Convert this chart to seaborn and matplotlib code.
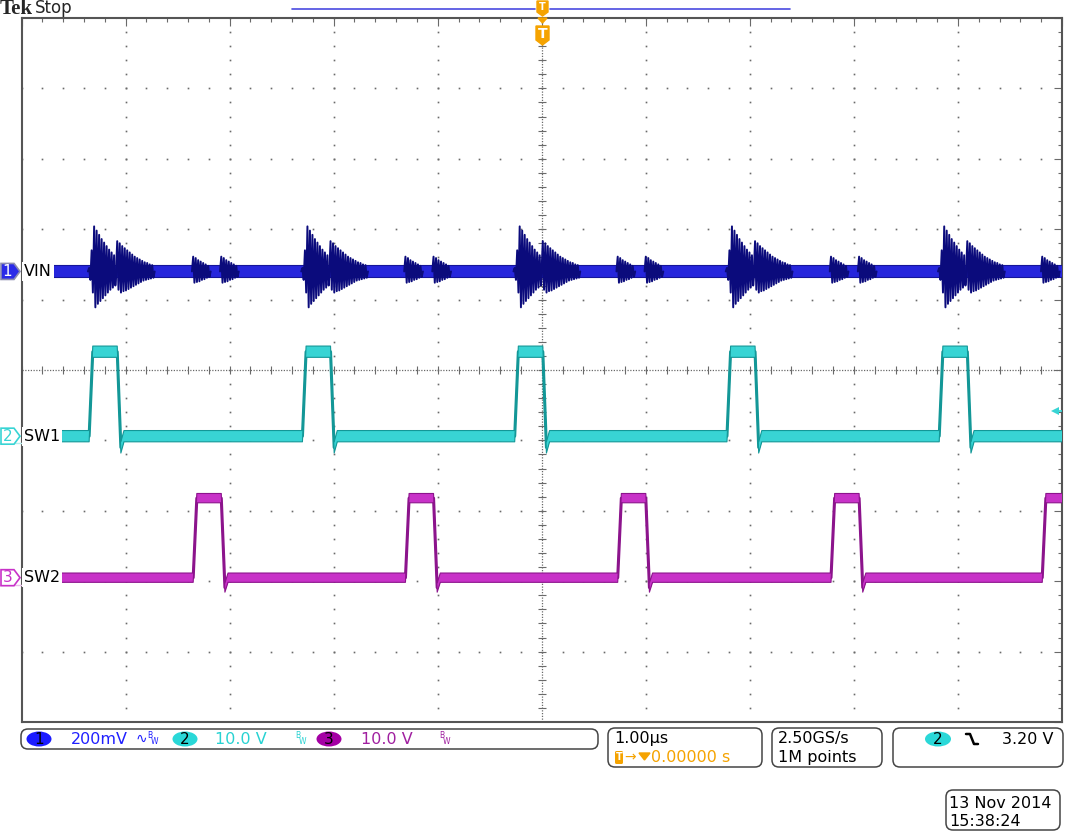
"""
Oscilloscope capture: VIN ringing vs. two interleaved switch nodes (SW1, SW2)
"""

import numpy as np
import pandas as pd
import matplotlib
matplotlib.use("Agg")
import matplotlib.pyplot as plt
import seaborn as sns
from matplotlib import patches

# Screen: 10 x 10 graticule, 1 us/div, trigger at centre
X_MIN, X_MAX = -5.0, 5.0
Y_MIN, Y_MAX = -5.0, 5.0

# Switching edges (us)
sw1_rise = [-4.35, -2.30, -0.26, 1.78, 3.82]
sw2_rise = [-3.35, -1.31, 0.73, 2.78, 4.81]
pulse_width = 0.27
edge_time = 0.035

# Trace levels in divisions (low, high) and ringing below low after fall
vin_level = 1.40
sw1_levels = [-0.94, 0.26]
sw2_levels = [-2.95, -1.82]
sw1_undershoot = 0.16
sw2_undershoot = 0.14

# VIN ringing peaks (div from VIN level) at each kind of switching edge
vin_ring_sw1_on = [0.05, -0.12, 0.30, -0.30, 0.64, -0.51, 0.58, -0.46, 0.52,
                   -0.42, 0.46, -0.38, 0.41, -0.34, 0.36, -0.30, 0.31, -0.26,
                   0.27, -0.23, 0.23, -0.20]
vin_ring_sw1_off = [0.43, -0.26, 0.40, -0.30, 0.36, -0.28, 0.33, -0.27, 0.30,
                    -0.25, 0.27, -0.23, 0.24, -0.21, 0.21, -0.19, 0.19, -0.17,
                    0.17, -0.15, 0.15, -0.13, 0.13, -0.12, 0.12, -0.11, 0.10,
                    -0.10, 0.09, -0.09]
vin_ring_sw2 = [0.21, -0.16, 0.19, -0.15, 0.16, -0.14, 0.14, -0.12, 0.12,
                -0.11, 0.10, -0.09, 0.08, -0.08]
ring_step = 0.012  # us between peaks

# Trigger: CH2 falling, 3.20 V
trig_level = -0.58

# Readouts
ch_scales = ["200mV", "10.0 V", "10.0 V"]
timebase = "1.00\u00b5s"
trig_pos = "0.00000 s"
sample_rate = ["2.50GS/s", "1M points"]
trig_volts = "3.20 V"
stamp = ["13 Nov 2014", "15:38:24"]

# colours
C_VIN, C_VIN_DARK, C_VIN_RING = "#2626dc", "#15159a", "#0b0b7c"
C_SW1, C_SW1_DARK = "#38d4d4", "#139797"
C_SW2, C_SW2_DARK = "#c832c8", "#8c148c"
C_ORANGE = "#f5a300"
C_GRID = "#6a6a6a"

W, H = 1066, 833
AX_L, AX_R, AX_T, AX_B = 21.5, 1062, 18, 722


def px_y(v):
    return AX_T + (Y_MAX - v) / (Y_MAX - Y_MIN) * (AX_B - AX_T)


def square_wave(rises, low, high, undershoot):
    t, v = [X_MIN - 1], [low]
    for r in rises:
        f = r + pulse_width
        t += [r, r + edge_time, f, f + edge_time, f + edge_time + 0.03]
        v += [low, high, high, low - undershoot, low]
    t.append(X_MAX + 1)
    v.append(low)
    return np.array(t), np.array(v)


def ring_frame():
    rows = []
    bursts = []
    for r in sw1_rise:
        bursts.append((r, vin_ring_sw1_on))
        bursts.append((r + pulse_width, vin_ring_sw1_off))
    for r in sw2_rise:
        bursts.append((r, vin_ring_sw2))
        bursts.append((r + pulse_width, vin_ring_sw2))
    for k, (t0, peaks) in enumerate(bursts):
        rows.append((k, t0 - ring_step, vin_level))
        for i, p in enumerate(peaks):
            rows.append((k, t0 + i * ring_step, vin_level + p))
        rows.append((k, t0 + len(peaks) * ring_step, vin_level))
    return pd.DataFrame(rows, columns=["burst", "t", "v"])


sns.set_style("white")
plt.rcParams["font.family"] = ["DejaVu Sans"]

fig = plt.figure(figsize=(W / 100, H / 100), dpi=100)
ax = fig.add_axes([AX_L / W, 1 - AX_B / H, (AX_R - AX_L) / W, (AX_B - AX_T) / H])
ax.set_xlim(X_MIN, X_MAX)
ax.set_ylim(Y_MIN, Y_MAX)

# graticule
minor = np.arange(-5, 5.001, 0.2)
for g in range(-4, 5):
    if g == 0:
        continue
    ax.plot(np.full_like(minor, g), minor, ls="none", marker="s", ms=1.2,
            mew=0, color=C_GRID, zorder=1)
    ax.plot(minor, np.full_like(minor, g), ls="none", marker="s", ms=1.2,
            mew=0, color=C_GRID, zorder=1)
ax.axvline(0, ls=(0, (1, 1.2)), lw=0.9, color=C_GRID, zorder=1)
ax.axhline(0, ls=(0, (1, 1.2)), lw=0.9, color=C_GRID, zorder=1)
ax.plot(np.zeros_like(minor), minor, ls="none", marker="_", ms=6, mew=0.8,
        color=C_GRID, zorder=1)
ax.plot(minor, np.zeros_like(minor), ls="none", marker="|", ms=6, mew=0.8,
        color=C_GRID, zorder=1)

ax.set_xticks(np.arange(-5, 5.01, 1))
ax.set_yticks(np.arange(-5, 5.01, 1))
ax.set_xticks(minor, minor=True)
ax.set_yticks(minor, minor=True)
ax.tick_params(which="both", direction="in", top=True, right=True,
               labelbottom=False, labelleft=False, color=C_GRID, width=0.8)
ax.tick_params(which="major", length=6)
ax.tick_params(which="minor", length=3)
for s in ax.spines.values():
    s.set_color("#555555")
    s.set_linewidth(1.5)

# VIN: noise band plus ringing bursts
ax.fill_between([X_MIN, X_MAX], vin_level - 0.085, vin_level + 0.085,
                color=C_VIN, lw=0, zorder=3)
ax.plot([X_MIN, X_MAX], [vin_level + 0.085] * 2, color=C_VIN_DARK, lw=0.8, zorder=3)
ax.plot([X_MIN, X_MAX], [vin_level - 0.085] * 2, color=C_VIN_DARK, lw=0.8, zorder=3)
rings = ring_frame()
sns.lineplot(data=rings, x="t", y="v", units="burst", estimator=None,
             sort=False, color=C_VIN_RING, lw=1.4, ax=ax, zorder=4)

# SW1 / SW2
for rises, (lo, hi), us, col, dark, half in [
        (sw1_rise, sw1_levels, sw1_undershoot, C_SW1, C_SW1_DARK, 0.08),
        (sw2_rise, sw2_levels, sw2_undershoot, C_SW2, C_SW2_DARK, 0.066)]:
    t, v = square_wave(rises, lo, hi, us)
    sns.lineplot(x=t, y=v, sort=False, estimator=None, color=dark, lw=2.2,
                 ax=ax, zorder=3)
    ax.fill_between(t, v - half, v + half, color=col, lw=0, zorder=4)
    ax.plot(t, v + half, color=dark, lw=0.8, zorder=4)
    ax.plot(t, v - half, color=dark, lw=0.8, zorder=4)

# trigger level marker on right edge
ax.plot([4.93, 5.0], [trig_level] * 2, color=C_SW1, lw=1.2, zorder=5)
ax.plot(4.93, trig_level, marker="<", ms=6, color=C_SW1, mew=0, zorder=5)
ax.set_xlabel("")
ax.set_ylabel("")

# ---- overlay in pixel units for the instrument readouts ----
ov = fig.add_axes([0, 0, 1, 1])
ov.set_xlim(0, W)
ov.set_ylim(H, 0)
ov.axis("off")

ov.text(0, 9, "Tek", fontsize=15, fontweight="bold", family=["Liberation Serif"],
        ha="left", va="center")
ov.text(35, 8, "Stop", fontsize=12, ha="left", va="center")

# record bar and trigger position markers
ov.plot([292, 535], [9, 9], color="#4a4ae0", lw=1.2)
ov.plot([550, 790], [9, 9], color="#4a4ae0", lw=1.2)
ov.add_patch(patches.Polygon([(537, 1), (548, 1), (548, 12), (542.5, 16), (537, 12)],
                             fc=C_ORANGE, ec=C_ORANGE))
ov.text(542.5, 7, "T", color="white", fontsize=7, fontweight="bold",
        ha="center", va="center")
ov.add_patch(patches.Polygon([(538, 18), (547, 18), (542.5, 23)], fc=C_ORANGE, ec=C_ORANGE))
ov.add_patch(patches.Polygon([(536, 26), (549, 26), (549, 40), (542.5, 45), (536, 40)],
                             fc=C_ORANGE, ec=C_ORANGE))
ov.text(542.5, 34, "T", color="white", fontsize=10, fontweight="bold",
        ha="center", va="center")


def chan_marker(num, py, face, edge, tcol, label, lcol):
    ov.plot([0, 60], [py + 7, py + 7], color=lcol, lw=1)
    ov.add_patch(patches.Polygon([(1, py - 8), (14, py - 8), (20, py), (14, py + 8), (1, py + 8)],
                                 fc=face, ec=edge, lw=1.2, zorder=5))
    ov.text(7.5, py, num, color=tcol, fontsize=11, ha="center", va="center", zorder=6)
    ov.text(24, py, label, color="black", fontsize=11.5, ha="left", va="center",
            bbox=dict(fc="white", ec="none", pad=1.5), zorder=6)


chan_marker("1", px_y(vin_level), "#2a2ae8", "#8c8cb0", "white", "VIN", "none")
chan_marker("2", px_y(sw1_levels[0]), "white", C_SW1, C_SW1, "SW1", "#b8eeee")
chan_marker("3", px_y(sw2_levels[0]), "white", C_SW2, C_SW2, "SW2", "#ecbcec")


def rbox(x0, y0, x1, y1):
    ov.add_patch(patches.FancyBboxPatch((x0, y0), x1 - x0, y1 - y0,
                                        boxstyle="round,pad=0,rounding_size=7",
                                        fc="white", ec="#454545", lw=1.1))


def bw(x, col):
    ov.text(x, 735, "B", color=col, fontsize=5.5, ha="left", va="center")
    ov.text(x + 4, 742, "W", color=col, fontsize=5.5, ha="left", va="center")


# vertical readout bar
rbox(21, 729, 598, 749)
for cx, fc, num in [(39, "#1c1cff", "1"), (185, "#2ad8d8", "2"), (329, "#a400a4", "3")]:
    ov.add_patch(patches.Ellipse((cx, 739), 25, 15, fc=fc, ec="none"))
    ov.text(cx, 739.5, num, color="black", fontsize=11, ha="center", va="center")
ov.text(71, 739, ch_scales[0], color="#2020ff", fontsize=11.5, ha="left", va="center")
ov.text(136, 739, "\u223f", color="#2020ff", fontsize=10, ha="left", va="center")
bw(147, "#2020ff")
ov.text(215, 739, ch_scales[1], color="#28d2d2", fontsize=11.5, ha="left", va="center")
bw(295, "#28d2d2")
ov.text(361, 739, ch_scales[2], color="#a020a0", fontsize=11.5, ha="left", va="center")
bw(439, "#a020a0")

# horizontal readout
rbox(608, 728, 762, 767)
ov.text(614, 739, timebase, color="black", fontsize=11.5, ha="left", va="center")
ov.add_patch(patches.FancyBboxPatch((615, 751), 8, 13, boxstyle="round,pad=0,rounding_size=1.5",
                                    fc=C_ORANGE, ec="none"))
ov.text(619, 757.5, "T", color="white", fontsize=7, fontweight="bold", ha="center", va="center")
ov.text(624, 757, "\u2192", color=C_ORANGE, fontsize=10, ha="left", va="center")
ov.add_patch(patches.Polygon([(639, 753), (650, 753), (644.5, 760)], fc=C_ORANGE, ec=C_ORANGE))
ov.text(651, 757.5, trig_pos, color=C_ORANGE, fontsize=11.5, ha="left", va="center")

# acquisition readout
rbox(772, 728, 882, 767)
ov.text(778, 739, sample_rate[0], color="black", fontsize=11.5, ha="left", va="center")
ov.text(778, 757.5, sample_rate[1], color="black", fontsize=11.5, ha="left", va="center")

# trigger readout
rbox(893, 728, 1063, 767)
ov.add_patch(patches.Ellipse((938, 739), 26, 15, fc="#2ad8d8", ec="none"))
ov.text(938, 739.5, "2", color="black", fontsize=11, ha="center", va="center")
ov.plot([966, 970, 974, 978], [734, 734, 744, 744], color="black", lw=1.8)
ov.text(1002, 739, trig_volts, color="black", fontsize=11.5, ha="left", va="center")

# date / time
rbox(946, 790, 1060, 830)
ov.text(949, 803, stamp[0], color="black", fontsize=11.5, ha="left", va="center")
ov.text(949, 821, stamp[1], color="black", fontsize=11.5, ha="left", va="center")

fig.savefig("out.png", dpi=100, facecolor="white")
